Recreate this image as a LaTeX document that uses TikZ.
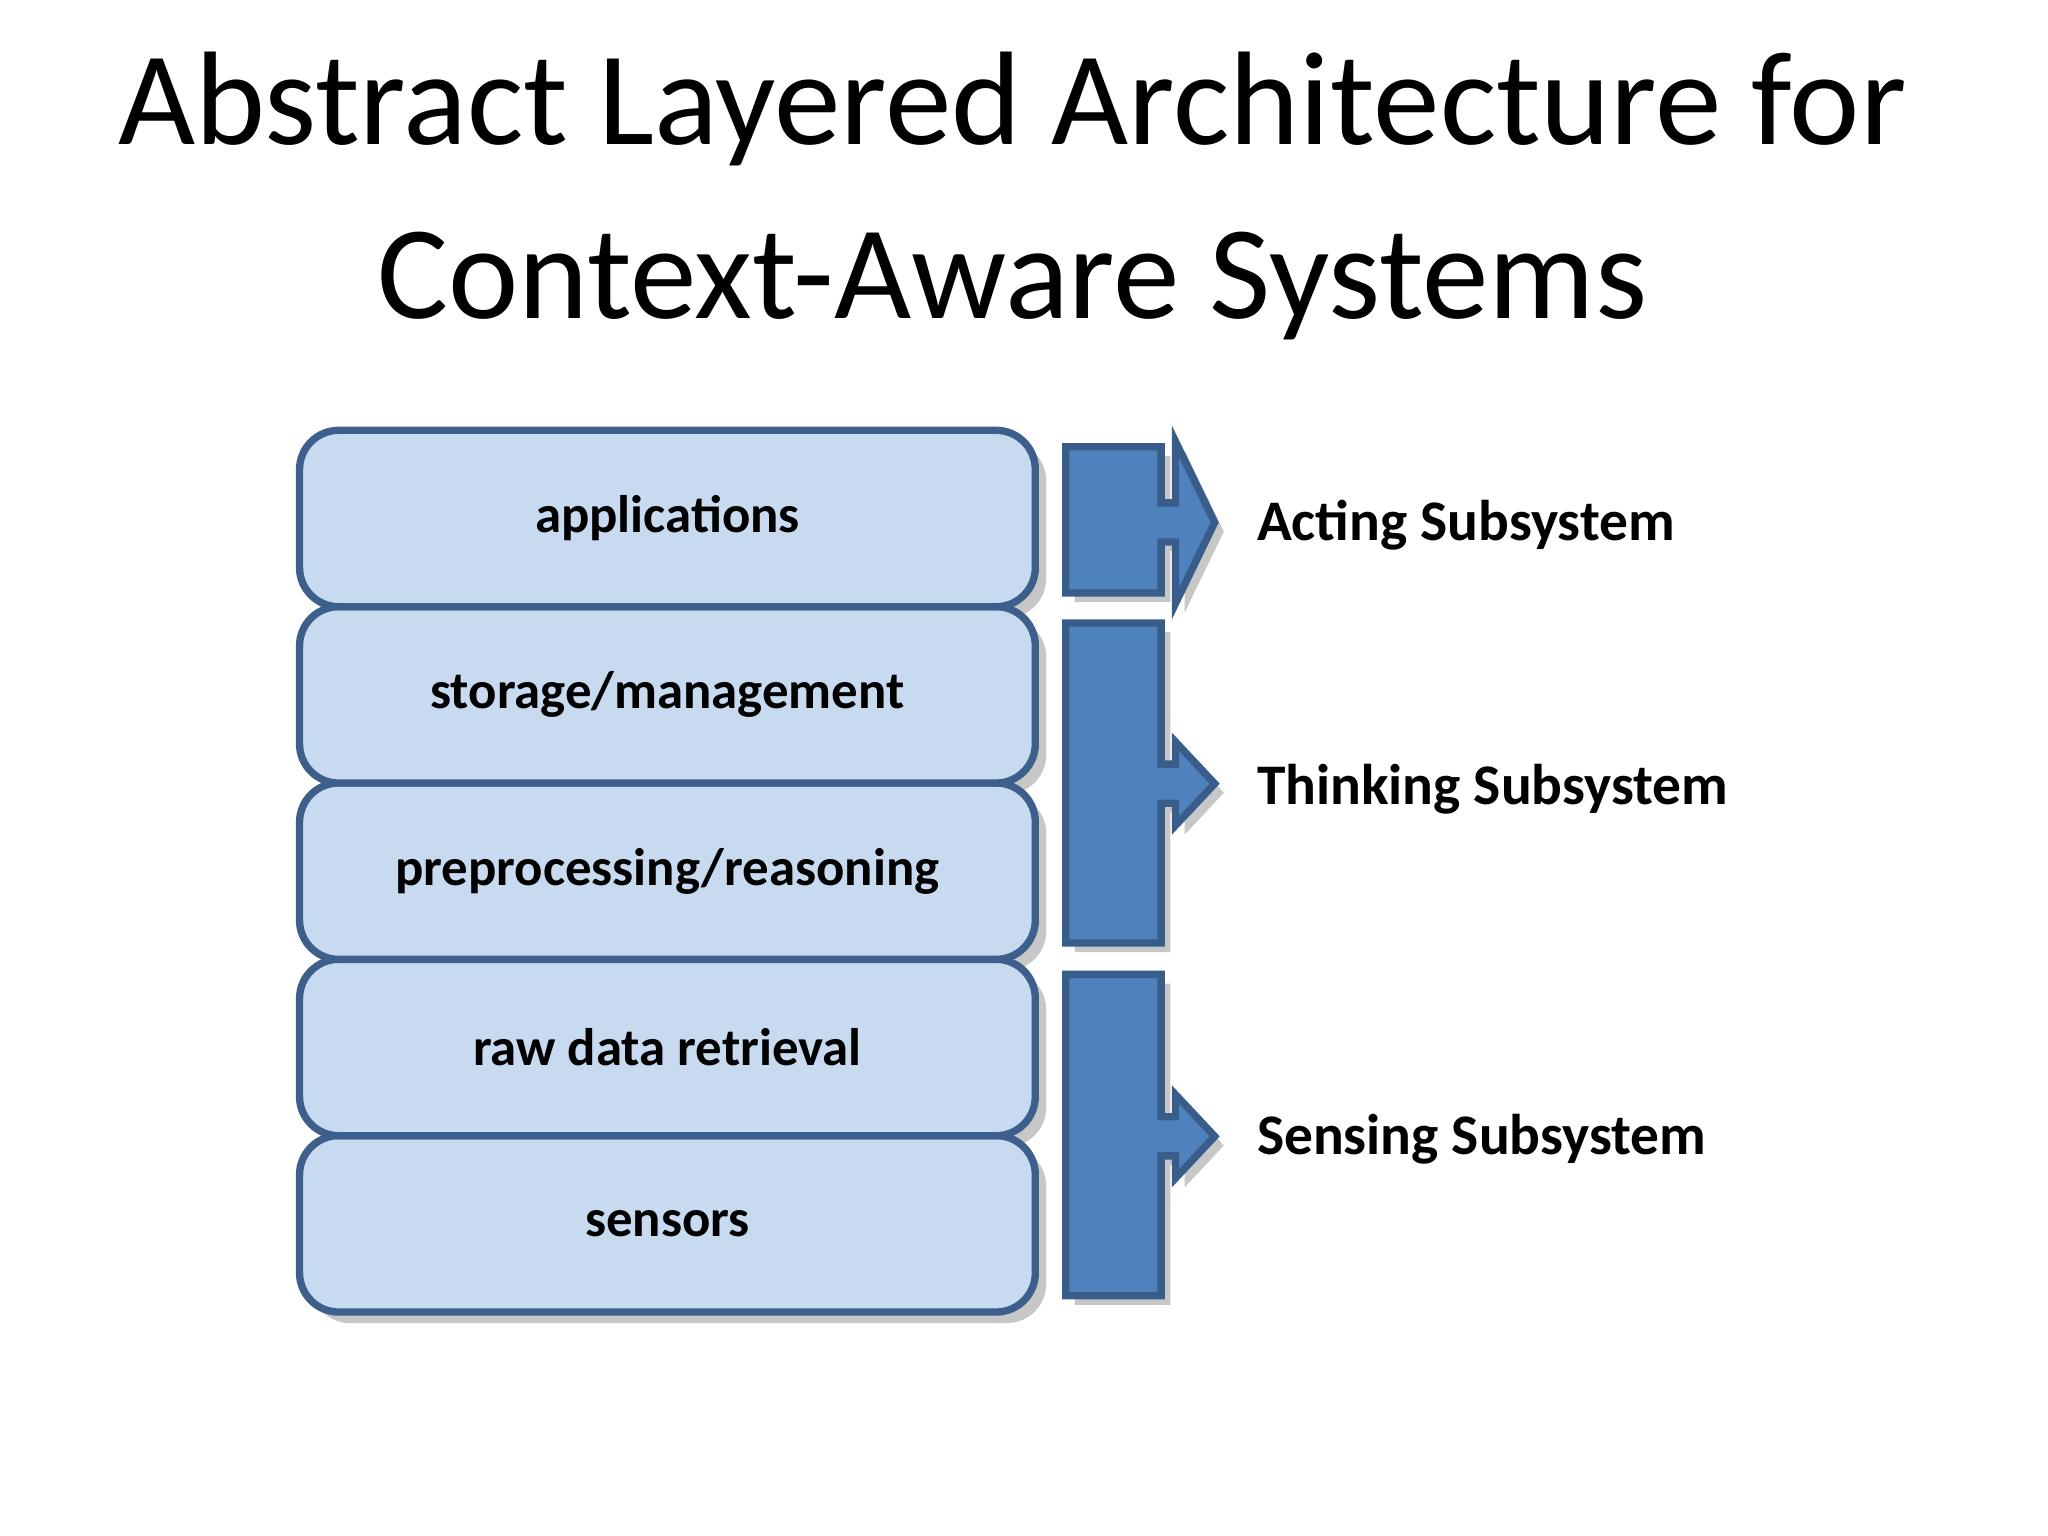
\documentclass[tikz,border=0pt]{standalone}
\usepackage{fontspec}
\setmainfont{Carlito}
\usetikzlibrary{positioning}
\definecolor{layerfill}{HTML}{C8DAF0}
\definecolor{layerdraw}{HTML}{3C5F8C}
\definecolor{arrowfill}{HTML}{4F81BD}
\definecolor{arrowdraw}{HTML}{385D8A}
\begin{document}
\begin{tikzpicture}[x=0.01cm,y=-0.01cm,
    layer/.style={draw=layerdraw, line width=1.6pt, fill=layerfill, rounded corners=0.3cm,
        minimum width=5.63cm, minimum height=1.35cm, font=\bfseries\fontsize{11.5}{13}\selectfont},
    sublabel/.style={anchor=west, font=\bfseries\fontsize{12.5}{14}\selectfont},
    blockarrow/.style={draw=arrowdraw, line width=1.6pt, fill=arrowfill},
    shade/.style={fill=black!22, draw=none}]
    \useasboundingbox (0,0) rectangle (1568,1176);

    % title
    \node[font=\fontsize{29}{38}\selectfont, align=center] (title) at (775,150)
        {Abstract Layered Architecture for\\Context-Aware Systems};

    % layers, with their shadows
    \foreach \y/\name/\txt in {400/app/applications, 535/store/storage/management,
        670/prep/preprocessing/reasoning, 805/raw/raw data retrieval, 940/sens/sensors} {
        \fill[shade, rounded corners=0.3cm] (238,\y-62) rectangle (801,\y+73);
    }
    \node[layer] (sens) at (511,937) {sensors};
    \node[layer] (raw) at (511,802) {raw data retrieval};
    \node[layer] (prep) at (511,667) {preprocessing/reasoning};
    \node[layer] (store) at (511,532) {storage/management};
    \node[layer] (app) at (511,397) {applications};

    % block arrows
    \foreach \t/\b/\m/\h in {342/454/400/62, 477/722/600/32, 746/992/870/32} {
        \fill[shade] (823,\t+7) -- (896,\t+7) -- (896,\m-15+7) -- (907,\m-15+7) -- (907,\m-\h+7)
            -- (937,\m+7) -- (907,\m+\h+7) -- (907,\m+15+7) -- (896,\m+15+7) -- (896,\b+7) -- (823,\b+7) -- cycle;
        \draw[blockarrow] (816,\t) -- (889,\t) -- (889,\m-15) -- (900,\m-15) -- (900,\m-\h)
            -- (930,\m) -- (900,\m+\h) -- (900,\m+15) -- (889,\m+15) -- (889,\b) -- (816,\b) -- cycle;
    }

    % subsystem labels
    \node[sublabel] (acting) at (950,402) {Acting Subsystem};
    \node[sublabel] (thinking) at (950,604) {Thinking Subsystem};
    \node[sublabel] (sensing) at (950,872) {Sensing Subsystem};
\end{tikzpicture}
\end{document}
